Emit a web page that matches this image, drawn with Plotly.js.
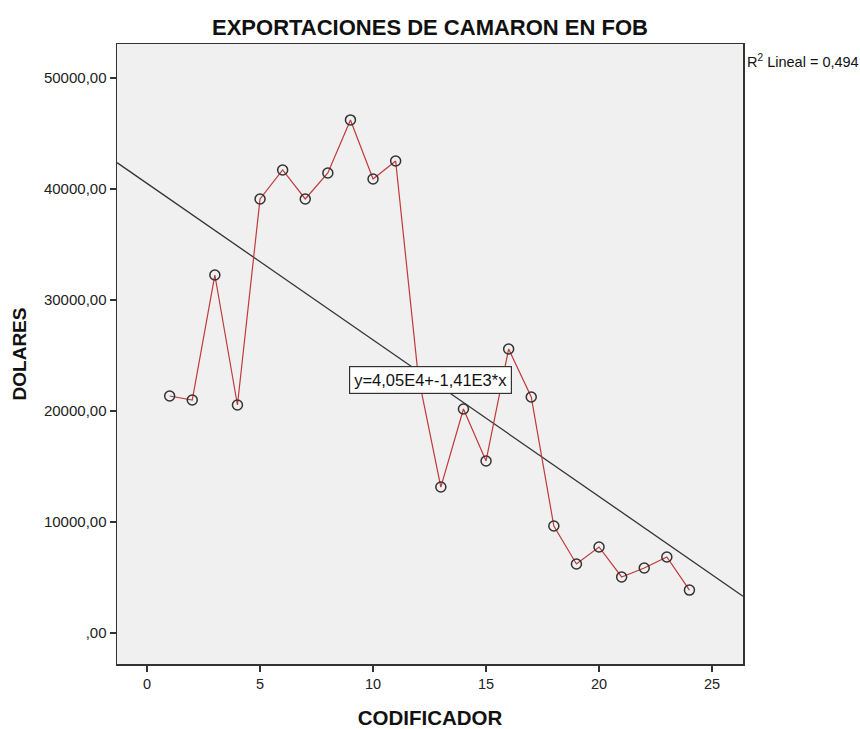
<!DOCTYPE html>
<html>
<head>
<meta charset="utf-8">
<script src="https://cdn.plot.ly/plotly-3.0.1.min.js"></script>
<style>html,body{margin:0;padding:0;background:#fff;}#chart{width:860px;height:729px;}</style>
</head>
<body>
<div id="chart"></div>
<script>
const codificador = [1,2,3,4,5,6,7,8,9,10,11,12,13,14,15,16,17,18,19,20,21,22,23,24];
const dolares = [21350,20990,32250,20540,39100,41710,39100,41440,46220,40900,42520,23150,13150,20180,15500,25590,21260,9640,6220,7750,5050,5860,6850,3870];
const fitIntercept = 40500;
const fitSlope = -1410;
const xRange = [-1.33, 26.37];
const yRange = [-2790, 53060];
const yTickVals = [0,10000,20000,30000,40000,50000];
const yTickText = [',00','10000,00','20000,00','30000,00','40000,00','50000,00'];
const xTickVals = [0,5,10,15,20,25];
const r2Text = 'R<sup>2</sup> Lineal = 0,494';
const eqText = 'y=4,05E4+-1,41E3*x';

const fitX = xRange.slice();
const fitY = fitX.map(v => fitIntercept + fitSlope * v);

const traces = [
  {x: fitX, y: fitY, mode: 'lines', line: {color: '#333333', width: 1.3}, hoverinfo: 'skip', showlegend: false},
  {x: codificador, y: dolares, mode: 'lines+markers',
   line: {color: '#c0393b', width: 1.2},
   marker: {symbol: 'circle-open', size: 10, color: '#333333', line: {width: 1.5, color: '#333333'}},
   showlegend: false}
];

const font = {family: 'Liberation Sans, Arial, sans-serif', color: '#222'};
const layout = {
  width: 860, height: 729,
  margin: {l: 117, r: 117, t: 44, b: 65},
  paper_bgcolor: '#ffffff', plot_bgcolor: '#f0f0f0',
  font: Object.assign({size: 12}, font),
  title: {text: '<b>EXPORTACIONES DE CAMARON EN FOB</b>', x: 0.5, xanchor: 'center', y: 0.962, yanchor: 'middle', font: {size: 22, family: font.family, color: '#111'}},
  xaxis: {range: xRange, tickvals: xTickVals, ticks: 'outside', ticklen: 6, tickcolor: '#333', tickwidth: 1.5,
    showgrid: false, zeroline: false, showline: true, linecolor: '#333', linewidth: 1.5, mirror: true,
    tickfont: {size: 14.5, family: font.family, color: '#222'},
    title: {text: '<b>CODIFICADOR</b>', standoff: 20, font: {size: 20.5, family: font.family, color: '#111'}}},
  yaxis: {range: yRange, tickvals: yTickVals, ticktext: yTickText, ticks: 'outside', ticklen: 6, tickcolor: '#333', tickwidth: 1.5,
    showgrid: false, zeroline: false, showline: true, linecolor: '#333', linewidth: 1.5, mirror: true,
    tickfont: {size: 15, family: font.family, color: '#222'},
    title: {text: '<b>DOLARES</b>', standoff: 12, font: {size: 19, family: font.family, color: '#111'}}},
  annotations: [
    {text: r2Text, xref: 'paper', yref: 'paper', x: 1.003, y: 0.972, xanchor: 'left', yanchor: 'middle', showarrow: false,
     font: {size: 14.5, family: font.family, color: '#111'}},
    {text: eqText, xref: 'x', yref: 'y', x: 12.52, y: 22800, xanchor: 'center', yanchor: 'middle', showarrow: false,
     bgcolor: '#ffffff', bordercolor: '#333', borderwidth: 1.2, borderpad: 4,
     font: {size: 16.5, family: font.family, color: '#111'}}
  ]
};
Plotly.newPlot('chart', traces, layout, {displayModeBar: false, staticPlot: true});
</script>
</body>
</html>
